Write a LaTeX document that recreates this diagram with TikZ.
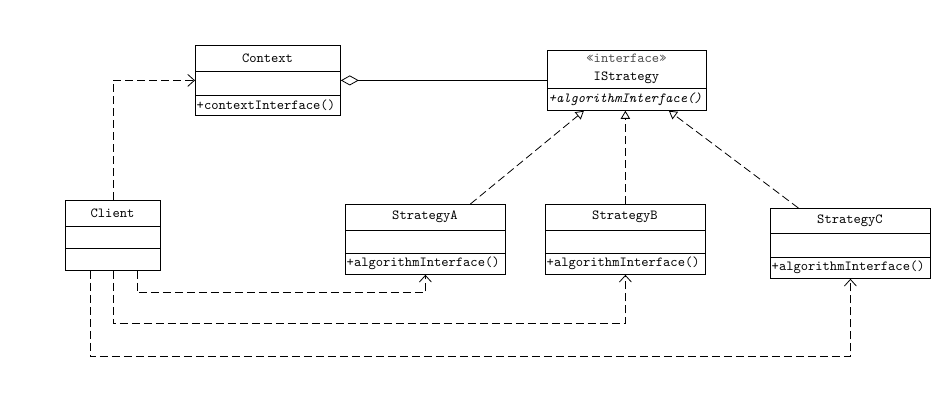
\documentclass[tikz,border=0pt]{standalone}
\usepackage{fontspec}
\usepackage{tikz}
\usetikzlibrary{arrows.meta, calc}
\tikzset{
	umltext/.style={font=\ttfamily\fontsize{10.4}{12}\selectfont, inner sep=1pt},
	depline/.style={dash pattern=on 6pt off 3pt, -{Straight Barb[length=5pt, width=9pt]}},
	realline/.style={dash pattern=on 6pt off 3pt, -{Triangle[open, length=6pt, width=7pt]}}
}
% class box: name, left, top, width, h1, h2, h3, title, method
\newcommand{\ClassBox}[9]{
	\def\cname{#1}
	\node[draw, inner sep=0pt, anchor=north west, minimum width=#4*0.75pt, minimum height={(#5+#6+#7)*0.75pt}] (\cname) at (#2,#3) {};
	\draw (#2,#3+#5) -- +(#4,0);
	\draw (#2,#3+#5+#6) -- +(#4,0);
	\node[umltext, align=center] (\cname-title) at (#2+#4/2,#3+#5/2) {#8};
	\node[umltext, anchor=west] (\cname-op) at (#2,#3+#5+#6+#7/2) {#9};
}

\begin{document}
\begin{tikzpicture}[x=0.75pt, y=-0.75pt, line width=0.6pt, line cap=butt]

  \useasboundingbox (0,0) rectangle (947,410);

  \ClassBox{context}{195}{45}{145}{26}{24}{20}{Context}{+contextInterface()}
  \ClassBox{istrategy}{547}{50}{159}{38}{0}{22}{\textcolor{black!70}{«interface»}\\[1.5pt]IStrategy}{\textit{+algorithmInterface()}}
  \ClassBox{client}{65}{200}{95}{26}{22}{22}{Client}{}
  \ClassBox{stratA}{345}{204}{160}{26}{23}{21}{StrategyA}{+algorithmInterface()}
  \ClassBox{stratB}{545}{204}{160}{26}{23}{21}{StrategyB}{+algorithmInterface()}
  \ClassBox{stratC}{770}{208}{160}{25}{24}{21}{StrategyC}{+algorithmInterface()}

  % aggregation
  \draw[{Diamond[open, length=13.5pt, width=7.5pt]}-] (context.east) -- (istrategy.west);

  % client uses context
  \draw[depline] (client.north) |- (context.west);

  % realizations
  \draw[realline] ($ (stratA.north)+(45,0) $) -- ($ (istrategy.south)+(-43,0) $);
  \draw[realline] (stratB.north) -- (stratB.north |- istrategy.south);
  \draw[realline] ($ (stratC.north)+(-52,0) $) -- ($ (istrategy.south)+(42,0) $);

  % client depends on strategies
  \draw[depline] ($ (client.south)+(24,0) $) -- ++(0,22) -| (stratA.south);
  \draw[depline] (client.south) -- ++(0,53) -| (stratB.south);
  \draw[depline] ($ (client.south)+(-23,0) $) -- ++(0,86) -| (stratC.south);

\end{tikzpicture}
\end{document}
